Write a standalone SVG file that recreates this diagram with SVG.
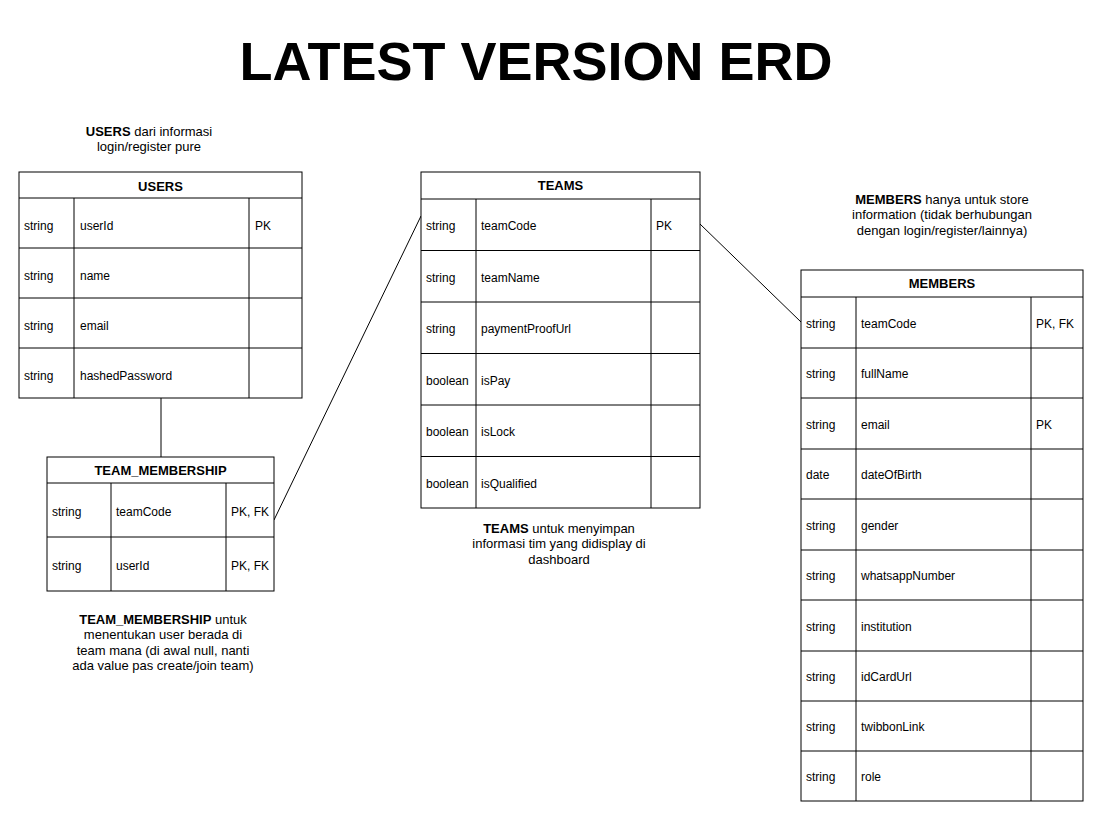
<svg xmlns="http://www.w3.org/2000/svg" width="1102" height="820" viewBox="0 0 1102 820">
<style>
text{font-family:"Liberation Sans",Arial,sans-serif;fill:#000}
.title{font-size:54px;font-weight:bold;text-anchor:middle}
.hd{font-size:13px;font-weight:bold;text-anchor:middle}
.c{font-size:12px}
.note{font-size:13px;text-anchor:middle}
.b{font-weight:bold}
.box{fill:#fff;stroke:#000;stroke-width:1}
.ln{stroke:#000;stroke-width:1;fill:none}
</style>
<rect width="1102" height="820" fill="#fff"/>
<text class="title" x="536" y="80">LATEST VERSION ERD</text>

<g id="connectors">
<line class="ln" x1="161" y1="398" x2="161" y2="457"/>
<line class="ln" x1="274" y1="520" x2="421" y2="216"/>
<line class="ln" x1="700" y1="224" x2="801" y2="322"/>
</g>

<g id="note-users">
<text class="note" x="149" y="136"><tspan class="b">USERS</tspan> dari informasi</text>
<text class="note" x="149" y="151">login/register pure</text>
</g>

<g id="users">
<rect class="box" x="19" y="172" width="283" height="226"/>
<path class="ln" d="M19 198H302M19 248H302M19 298H302M19 348H302M74 198V398M249 198V398"/>
<text class="hd" x="160.5" y="191">USERS</text>
<text class="c" x="24" y="230">string</text><text class="c" x="80" y="230">userId</text><text class="c" x="255" y="230">PK</text>
<text class="c" x="24" y="280">string</text><text class="c" x="80" y="280">name</text>
<text class="c" x="24" y="330">string</text><text class="c" x="80" y="330">email</text>
<text class="c" x="24" y="380">string</text><text class="c" x="80" y="380">hashedPassword</text>
</g>

<g id="team_membership">
<rect class="box" x="47" y="457" width="227" height="134"/>
<path class="ln" d="M47 483H274M47 537H274M111 483V591M226 483V591"/>
<text class="hd" x="160.5" y="475">TEAM_MEMBERSHIP</text>
<text class="c" x="52" y="516">string</text><text class="c" x="116" y="516">teamCode</text><text class="c" x="231" y="516">PK, FK</text>
<text class="c" x="52" y="570">string</text><text class="c" x="116" y="570">userId</text><text class="c" x="231" y="570">PK, FK</text>
</g>

<g id="note-team_membership">
<text class="note" x="163" y="624"><tspan class="b">TEAM_MEMBERSHIP</tspan> untuk</text>
<text class="note" x="163" y="639">menentukan user berada di</text>
<text class="note" x="163" y="655">team mana (di awal null, nanti</text>
<text class="note" x="163" y="670">ada value pas create/join team)</text>
</g>

<g id="teams">
<rect class="box" x="421" y="172" width="279" height="336"/>
<path class="ln" d="M421 199H700M421 250.5H700M421 302H700M421 353.5H700M421 405H700M421 456.5H700M476 199V508M651 199V508"/>
<text class="hd" x="560.5" y="190">TEAMS</text>
<text class="c" x="426" y="230">string</text><text class="c" x="481" y="230">teamCode</text><text class="c" x="656" y="230">PK</text>
<text class="c" x="426" y="282">string</text><text class="c" x="481" y="282">teamName</text>
<text class="c" x="426" y="333">string</text><text class="c" x="481" y="333">paymentProofUrl</text>
<text class="c" x="426" y="385">boolean</text><text class="c" x="481" y="385">isPay</text>
<text class="c" x="426" y="436">boolean</text><text class="c" x="481" y="436">isLock</text>
<text class="c" x="426" y="488">boolean</text><text class="c" x="481" y="488">isQualified</text>
</g>

<g id="note-teams">
<text class="note" x="559" y="533"><tspan class="b">TEAMS</tspan> untuk menyimpan</text>
<text class="note" x="559" y="548">informasi tim yang didisplay di</text>
<text class="note" x="559" y="564">dashboard</text>
</g>

<g id="note-members">
<text class="note" x="942" y="204"><tspan class="b">MEMBERS</tspan> hanya untuk store</text>
<text class="note" x="942" y="219">information (tidak berhubungan</text>
<text class="note" x="942" y="235">dengan login/register/lainnya)</text>
</g>

<g id="members">
<rect class="box" x="801" y="270" width="282" height="531"/>
<path class="ln" d="M801 297H1083M801 348H1083M801 398H1083M801 449H1083M801 499H1083M801 550H1083M801 600H1083M801 651H1083M801 701H1083M801 751H1083M856 297V801M1031 297V801"/>
<text class="hd" x="942" y="288">MEMBERS</text>
<text class="c" x="806" y="328">string</text><text class="c" x="861" y="328">teamCode</text><text class="c" x="1036" y="328">PK, FK</text>
<text class="c" x="806" y="378">string</text><text class="c" x="861" y="378">fullName</text>
<text class="c" x="806" y="429">string</text><text class="c" x="861" y="429">email</text><text class="c" x="1036" y="429">PK</text>
<text class="c" x="806" y="479">date</text><text class="c" x="861" y="479">dateOfBirth</text>
<text class="c" x="806" y="530">string</text><text class="c" x="861" y="530">gender</text>
<text class="c" x="806" y="580">string</text><text class="c" x="861" y="580">whatsappNumber</text>
<text class="c" x="806" y="631">string</text><text class="c" x="861" y="631">institution</text>
<text class="c" x="806" y="681">string</text><text class="c" x="861" y="681">idCardUrl</text>
<text class="c" x="806" y="731">string</text><text class="c" x="861" y="731">twibbonLink</text>
<text class="c" x="806" y="781">string</text><text class="c" x="861" y="781">role</text>
</g>
</svg>
